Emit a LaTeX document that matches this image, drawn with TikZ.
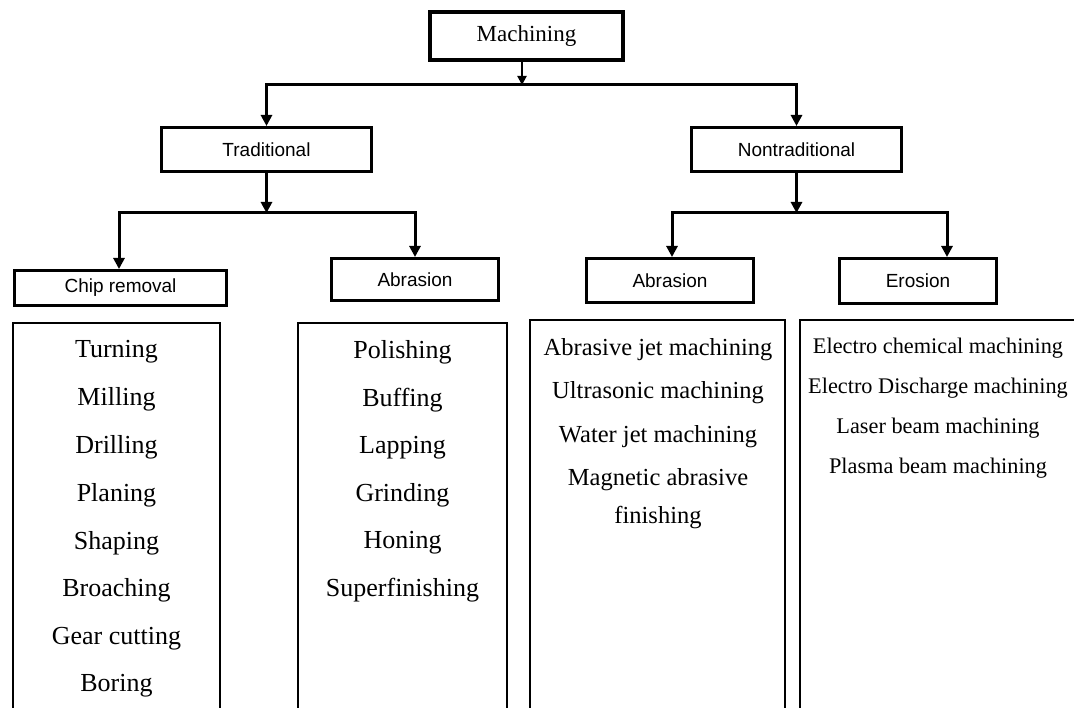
\documentclass[tikz,border=0pt]{standalone}
\usepackage{fontspec}
\setmainfont{Liberation Serif}
\newfontfamily\labelfont{Liberation Sans}
\usetikzlibrary{arrows.meta}
\tikzset{
  catbox/.style={draw, line width=3pt, inner sep=0pt, font=\labelfont\fontsize{19}{22}\selectfont},
  conn/.style={line width=3pt, -{Triangle[width=11pt,length=11pt]}},
  link/.style={line width=3pt},
  listbox/.style={draw, line width=1.5pt},
  itemA/.style={font=\fontsize{26}{30}\selectfont, inner sep=0pt},
  itemB/.style={font=\fontsize{24.5}{38}\selectfont, inner sep=0pt, align=center},
  itemC/.style={font=\fontsize{22.3}{26}\selectfont, inner sep=0pt}
}
\begin{document}
\begin{tikzpicture}[x=1pt,y=-1pt]
\useasboundingbox (0,0) rectangle (1074,708);
\clip (0,0) rectangle (1074,708);
\fill[white] (0,0) rectangle (1074,708);

% top
\node[draw, line width=4.5pt, minimum width=193pt, minimum height=48pt, inner sep=0pt,
      font=\fontsize{23}{26}\selectfont] (mach) at (526.5,36) {Machining};
\node[catbox, minimum width=210pt, minimum height=44pt] (trad) at (266.5,149.5) {Traditional};
\node[catbox, minimum width=210pt, minimum height=44pt] (non) at (796.5,149.5) {Nontraditional};

\coordinate (j1) at (522,85);
\draw[line width=2pt, -{Triangle[width=9pt,length=9pt]}] (mach.south -| j1) -- (j1);
\draw[conn] (j1) -| (trad.north);
\draw[conn] (j1) -| (non.north);

% second level
\node[catbox, minimum width=212pt, minimum height=35pt] (chip) at (120.5,288) {Chip removal};
\node[catbox, minimum width=167pt, minimum height=42pt] (abr1) at (415,279.5) {Abrasion};
\node[catbox, minimum width=167pt, minimum height=44pt] (abr2) at (670,280.5) {Abrasion};
\node[catbox, minimum width=157pt, minimum height=45pt] (eros) at (918,281) {Erosion};

\coordinate (j2) at (266.5,213);
\coordinate (j3) at (796.5,213);
\draw[conn] (trad.south) -- (j2);
\draw[conn] (non.south) -- (j3);
\draw[conn] (j2) -| ([xshift=-1.5pt]chip.north);
\draw[conn] (j2) -| (abr1.north);
\draw[conn] (j3) -| ([xshift=2pt]abr2.north);
\draw[conn] (j3) -| ([xshift=29pt]eros.north);

% list boxes
\draw[listbox] (13,323) rectangle (220,730);
\draw[listbox] (298,323) rectangle (507,730);
\draw[listbox] (530,320) rectangle (785,730);
\draw[listbox] (800,320) rectangle (1090,730);

\foreach \t [count=\i] in {Turning,Milling,Drilling,Planing,Shaping,Broaching,Gear cutting,Boring}
  \node[itemA] (c\i) at (116.5,{352+47.7*(\i-1)}) {\t};
\foreach \t [count=\i] in {Polishing,Buffing,Lapping,Grinding,Honing,Superfinishing}
  \node[itemA] (p\i) at (402.5,{352+47.7*(\i-1)}) {\t};

\node[itemB] (n1) at (658,350) {Abrasive jet machining};
\node[itemB] (n2) at (658,393) {Ultrasonic machining};
\node[itemB] (n3) at (658,437) {Water jet machining};
\node[itemB] (n4) at (658,499) {Magnetic abrasive\\finishing};

\node[itemC] (e1) at (938,348) {Electro chemical machining};
\node[itemC] (e2) at (938,388) {Electro Discharge machining};
\node[itemC] (e3) at (938,428) {Laser beam machining};
\node[itemC] (e4) at (938,468) {Plasma beam machining};
\end{tikzpicture}
\end{document}
